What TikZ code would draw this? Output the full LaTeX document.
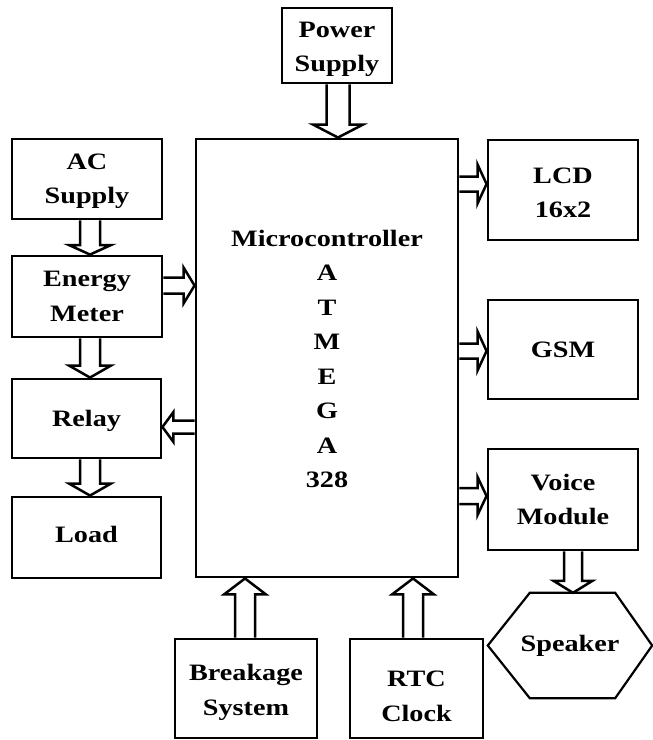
\documentclass[tikz,border=0pt]{standalone}
\usepackage{fontspec}
\setmainfont{Liberation Serif}
\usepackage{graphicx}
\usetikzlibrary{calc}
\newcommand{\sx}[1]{\scalebox{1.2}[1]{#1}}
\tikzset{
  box/.style={draw, line width=2.9pt, inner sep=0pt},
  txt/.style={align=center, inner sep=0pt,
    font=\fontsize{23.5}{34.5}\selectfont\bfseries},
  arrowline/.style={draw, line width=2.5pt, line join=miter, miter limit=10},
  hexline/.style={draw, line width=2.2pt, line join=miter},
}
% hollow block arrow: start, end, shaft half width, head half width, head length
\newcommand{\barrow}[5]{%
  \coordinate (ba-s) at (#1);
  \coordinate (ba-e) at (#2);
  \coordinate (ba-h) at ($(ba-e)!#5!(ba-s)$);
  \path[arrowline] ($(ba-s)!#3!90:(ba-e)$) -- ($(ba-h)!#3!-90:(ba-s)$)
    -- ($(ba-h)!#4!-90:(ba-s)$) -- (ba-e) -- ($(ba-h)!#4!90:(ba-s)$)
    -- ($(ba-h)!#3!90:(ba-s)$) -- ($(ba-s)!#3!-90:(ba-e)$);
}
\begin{document}
\begin{tikzpicture}[x=1pt, y=-1pt]
\useasboundingbox (0,0) rectangle (653,740);
% boxes
\node[box, minimum width=110pt, minimum height=75pt,
  label={[txt, yshift=-4pt]center:{\sx{Power}\\\sx{Supply}}}] (ps) at (337,45.5) {};
\node[box, minimum width=150pt, minimum height=80pt,
  label={[txt, yshift=-2pt]center:{\sx{AC}\\\sx{Supply}}}] (ac) at (87,179) {};
\node[box, minimum width=150pt, minimum height=81pt,
  label={[txt]center:{\sx{Energy}\\\sx{Meter}}}] (em) at (87,296.5) {};
\node[box, minimum width=149pt, minimum height=79pt,
  label={[txt, yshift=-2pt]center:{\sx{Relay}}}] (relay) at (86.5,418.5) {};
\node[box, minimum width=149pt, minimum height=81pt,
  label={[txt, yshift=3pt]center:{\sx{Load}}}] (load) at (86.5,537.5) {};
\node[box, minimum width=262pt, minimum height=438pt,
  label={[txt, yshift=-1pt]center:{\sx{Microcontroller}\\\sx{A}\\\sx{T}\\\sx{M}\\\sx{E}\\\sx{G}\\\sx{A}\\\sx{328}}}] (mc) at (327,358) {};
\node[box, minimum width=150pt, minimum height=100pt,
  label={[txt, yshift=-3pt]center:{\sx{LCD}\\\sx{16x2}}}] (lcd) at (563,190) {};
\node[box, minimum width=150pt, minimum height=99pt,
  label={[txt]center:{\sx{GSM}}}] (gsm) at (563,349.5) {};
\node[box, minimum width=150pt, minimum height=101pt,
  label={[txt]center:{\sx{Voice}\\\sx{Module}}}] (voice) at (563,499.5) {};
\node[box, minimum width=142pt, minimum height=99pt,
  label={[txt, yshift=-4pt]center:{\sx{Breakage}\\\sx{System}}}] (brk) at (246,688.5) {};
\node[box, minimum width=133pt, minimum height=99pt,
  label={[txt, yshift=-8pt]center:{\sx{RTC}\\\sx{Clock}}}] (rtc) at (416.5,688.5) {};
\node[inner sep=0pt, minimum width=164pt, minimum height=105pt,
  label={[txt]center:{\sx{Speaker}}}] (spk) at (570,645.5) {};
\path[hexline] (spk.west) -- ([xshift=42pt]spk.north west) -- ([xshift=-37pt]spk.north east)
  -- (spk.east) -- ([xshift=-37pt]spk.south east) -- ([xshift=42pt]spk.south west) -- cycle;
% arrows
\coordinate (a1) at ([xshift=1pt]ps.south);
\barrow{a1}{a1 |- mc.north}{11.5pt}{25pt}{13pt}
\coordinate (a2) at ([xshift=3pt]ac.south);
\barrow{a2}{a2 |- em.north}{10pt}{21pt}{9.5pt}
\coordinate (a3) at ([yshift=11pt]em.east);
\barrow{a3}{a3 -| mc.west}{8pt}{18pt}{11pt}
\coordinate (a4) at ([xshift=3pt]em.south);
\barrow{a4}{a4 |- relay.north}{10pt}{21pt}{12pt}
\coordinate (a5) at ([yshift=-8.5pt]relay.east);
\barrow{a5 -| mc.west}{a5}{6.5pt}{15pt}{11pt}
\coordinate (a6) at ([xshift=3.5pt]relay.south);
\barrow{a6}{a6 |- load.north}{10pt}{21pt}{12pt}
\coordinate (a7) at ([yshift=6pt]lcd.west);
\barrow{a7 -| mc.east}{a7}{7.5pt}{19.5pt}{9pt}
\coordinate (a8) at ([yshift=-1.5pt]gsm.west);
\barrow{a8 -| mc.east}{a8}{7.5pt}{19.5pt}{9pt}
\coordinate (a9) at ([yshift=3.5pt]voice.west);
\barrow{a9 -| mc.east}{a9}{8pt}{19pt}{9pt}
\coordinate (a10) at ([xshift=10pt]voice.south);
\barrow{a10}{a10 |- spk.north}{9pt}{19.5pt}{12pt}
\coordinate (a11) at ([xshift=-1pt]brk.north);
\barrow{a11}{a11 |- mc.south}{10pt}{21pt}{16pt}
\coordinate (a12) at ([xshift=-3.5pt]rtc.north);
\barrow{a12}{a12 |- mc.south}{10pt}{21pt}{16pt}
\end{tikzpicture}
\end{document}
